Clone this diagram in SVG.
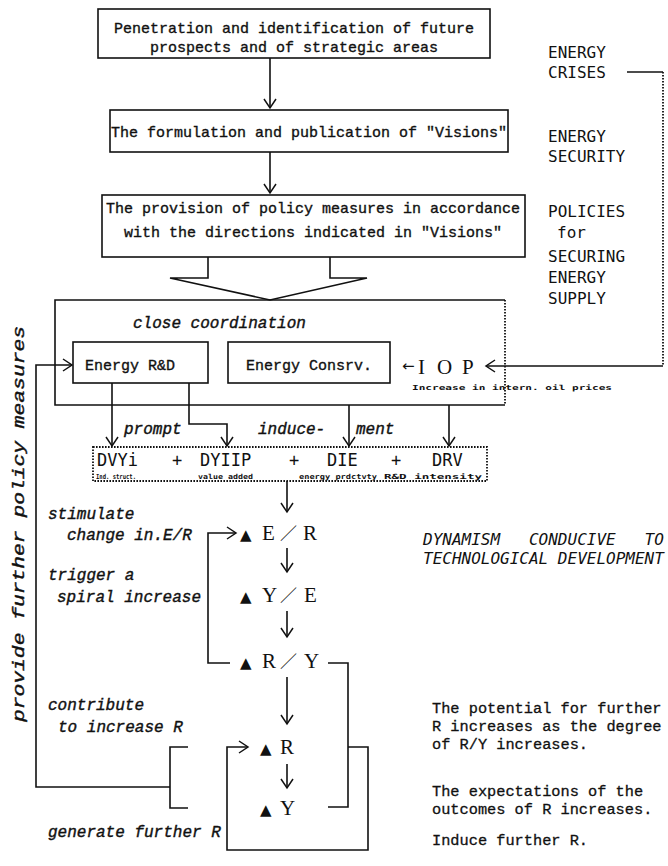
<svg xmlns="http://www.w3.org/2000/svg" width="668" height="866" viewBox="0 0 668 866">
<defs>
<marker id="ah" markerUnits="userSpaceOnUse" markerWidth="14" markerHeight="14" viewBox="-10 -7 12 14" refX="0" refY="0" orient="auto"><path d="M-9,-6 L0,0 L-9,6" fill="none" stroke="#111" stroke-width="1.5"/></marker>
<style>
.ln{fill:none;stroke:#111;stroke-width:1.6}
.box{fill:#fff;stroke:#111;stroke-width:1.6}
.dot{fill:none;stroke:#111;stroke-width:1.8;stroke-dasharray:1.6 1.4}
.mono{font-family:"Liberation Mono","DejaVu Sans Mono",monospace;font-size:15px;fill:#111;stroke:#111;stroke-width:0.35}
.it{font-family:"Liberation Mono","DejaVu Sans Mono",monospace;font-style:italic;font-size:16px;fill:#111;stroke:#111;stroke-width:0.4}
.side{font-family:"DejaVu Sans Mono",monospace;font-size:16px;fill:#111}
.obl{font-family:"DejaVu Sans Mono",monospace;font-style:oblique;font-size:16px;fill:#111}
.ser{font-family:"Liberation Serif",serif;font-size:21px;fill:#111}
.tri{font-family:"DejaVu Sans",sans-serif;font-size:15px;fill:#111}
.sl{font-family:"Noto Sans CJK JP",sans-serif;font-size:17px;fill:#111}
.sub{font-family:"DejaVu Sans Mono",monospace;font-size:7px;font-weight:bold;fill:#111}
.dv{font-family:"DejaVu Sans Mono",monospace;font-size:17px;fill:#111}
.note{font-family:"Liberation Mono","DejaVu Sans Mono",monospace;font-size:15.3px;fill:#111;stroke:#111;stroke-width:0.3}
.c{text-anchor:middle}
</style>
</defs>
<rect width="668" height="866" fill="#fff"/>

<g id="connectors">
<path class="ln" d="M270,58 V108" marker-end="url(#ah)"/>
<path class="ln" d="M270,152 V193" marker-end="url(#ah)"/>
<path class="ln" d="M208,257 V278 H170 L270,300 L367,278 H330 V257"/>
<path class="ln" d="M627,72 H663"/>
<path class="dot" d="M663,72 V366"/>
<path class="ln" d="M663,366 H486" marker-end="url(#ah)"/>
<path class="ln" d="M112,383 V446" marker-end="url(#ah)"/>
<path class="ln" d="M189,383 V424 H227 V446" marker-end="url(#ah)"/>
<path class="ln" d="M349,405 V446" marker-end="url(#ah)"/>
<path class="ln" d="M449,405 V446" marker-end="url(#ah)"/>
<path class="ln" d="M287,481 V512" marker-end="url(#ah)"/>
<path class="ln" d="M287,548 V572" marker-end="url(#ah)"/>
<path class="ln" d="M287,611 V637" marker-end="url(#ah)"/>
<path class="ln" d="M287,677 V724" marker-end="url(#ah)"/>
<path class="ln" d="M287,764 V788" marker-end="url(#ah)"/>
<path class="ln" d="M230,663 H208 V533 H236" marker-end="url(#ah)"/>
<path class="ln" d="M328,663 H348 V807 H328"/>
<path class="ln" d="M348,747 H368 V850 H227 V747 H248" marker-end="url(#ah)"/>
<path class="ln" d="M188,747 H170 V808 H188"/>
<path class="ln" d="M170,787 H36 V365 H72" marker-end="url(#ah)"/>
</g>

<g id="n-penetration">
<rect class="box" x="98" y="9" width="392" height="49"/>
<text class="mono c" x="294" y="33">Penetration and identification of future</text>
<text class="mono c" x="294" y="52">prospects and of strategic areas</text>
</g>

<g id="n-formulation">
<rect class="box" x="110" y="110" width="398" height="42"/>
<text class="mono c" x="309" y="137">The formulation and publication of "Visions"</text>
</g>

<g id="n-provision">
<rect class="box" x="102" y="195" width="423" height="62"/>
<text class="mono c" x="313" y="213">The provision of policy measures in accordance</text>
<text class="mono c" x="313" y="237">with the directions indicated in "Visions"</text>
</g>

<g id="n-side-labels">
<text class="side" x="548" y="58">ENERGY</text>
<text class="side" x="548" y="78">CRISES</text>
<text class="side" x="548" y="142">ENERGY</text>
<text class="side" x="548" y="162">SECURITY</text>
<text class="side" x="548" y="217">POLICIES</text>
<text class="side" x="557" y="238">for</text>
<text class="side" x="548" y="262">SECURING</text>
<text class="side" x="548" y="283">ENERGY</text>
<text class="side" x="548" y="304">SUPPLY</text>
</g>

<g id="n-coordination">
<path class="ln" d="M505,300 H55 V405 H505"/>
<path class="dot" d="M505,300 V405"/>
<text class="it" x="133" y="328">close coordination</text>
</g>

<g id="n-energy-rd">
<rect class="box" x="73" y="342" width="135" height="41"/>
<text class="mono" x="85" y="370" font-size="16">Energy  R&amp;D</text>
</g>

<g id="n-energy-consrv">
<rect class="box" x="228" y="342" width="162" height="41"/>
<text class="mono c" x="309" y="370" font-size="16">Energy Consrv.</text>
</g>

<g id="n-iop">
<text class="tri" x="402" y="371">←</text>
<text class="ser" y="374" font-size="22"><tspan x="418">I</tspan><tspan x="437">O</tspan><tspan x="462">P</tspan></text>
<text class="sub" x="412" y="390" font-size="9" textLength="200" lengthAdjust="spacingAndGlyphs">Increase in intern. oil prices</text>
</g>

<g id="n-inducement-labels">
<text class="it" x="124" y="434">prompt</text>
<text class="it" x="258" y="434">induce-</text>
<text class="it" x="356" y="434">ment</text>
</g>

<g id="n-dvy">
<rect class="dot" x="93" y="447" width="394" height="34"/>
<text class="dv" x="97" y="466">DVYi</text>
<text class="dv c" x="177" y="466">+</text>
<text class="dv" x="200" y="466">DYIIP</text>
<text class="dv c" x="294" y="466">+</text>
<text class="dv" x="327" y="466">DIE</text>
<text class="dv c" x="396" y="466">+</text>
<text class="dv" x="432" y="466">DRV</text>
<text class="sub" x="96" y="478.5" textLength="40" lengthAdjust="spacingAndGlyphs">Ind. struct.</text>
<text class="sub" x="198" y="478.5" textLength="55" lengthAdjust="spacingAndGlyphs">value added</text>
<text class="sub" x="299" y="478.5" textLength="78" lengthAdjust="spacingAndGlyphs">energy prdctvty</text>
<text class="sub" x="384" y="478.5" textLength="98" lengthAdjust="spacingAndGlyphs">R&amp;D intensity</text>
</g>

<g id="n-er">
<text class="tri" x="240" y="540">▲</text>
<text class="ser" x="262" y="540">E</text>
<text class="sl" x="280" y="540">／</text>
<text class="ser" x="303" y="540">R</text>
</g>
<g id="n-ye">
<text class="tri" x="240" y="602">▲</text>
<text class="ser" x="262" y="602">Y</text>
<text class="sl" x="280" y="602">／</text>
<text class="ser" x="304" y="602">E</text>
</g>
<g id="n-ry">
<text class="tri" x="240" y="668">▲</text>
<text class="ser" x="262" y="668">R</text>
<text class="sl" x="280" y="668">／</text>
<text class="ser" x="304" y="668">Y</text>
</g>
<g id="n-r">
<text class="tri" x="260" y="754">▲</text>
<text class="ser" x="280" y="754">R</text>
</g>
<g id="n-y">
<text class="tri" x="260" y="815">▲</text>
<text class="ser" x="280" y="815">Y</text>
</g>

<g id="n-left-labels">
<text class="it" x="48" y="519">stimulate</text>
<text class="it" x="67" y="540">change in.E/R</text>
<text class="it" x="48" y="580">trigger a</text>
<text class="it" x="57" y="602">spiral increase</text>
<text class="it" x="48" y="710">contribute</text>
<text class="it" x="58" y="732">to increase R</text>
<text class="it" x="48" y="837">generate further R</text>
<text class="it c" transform="translate(24,524) rotate(-90)" font-size="19" textLength="396" lengthAdjust="spacingAndGlyphs">provide further policy measures</text>
</g>

<g id="n-dynamism">
<text class="obl" x="423" y="545" xml:space="preserve">DYNAMISM   CONDUCIVE   TO</text>
<text class="obl" x="423" y="564">TECHNOLOGICAL DEVELOPMENT</text>
</g>

<g id="n-right-notes">
<text class="note" x="432" y="713">The potential for further</text>
<text class="note" x="432" y="731">R increases as the degree</text>
<text class="note" x="432" y="749">of R/Y increases.</text>
<text class="note" x="432" y="796">The expectations of the</text>
<text class="note" x="432" y="814">outcomes of R increases.</text>
<text class="note" x="432" y="845">Induce further R.</text>
</g>
</svg>
